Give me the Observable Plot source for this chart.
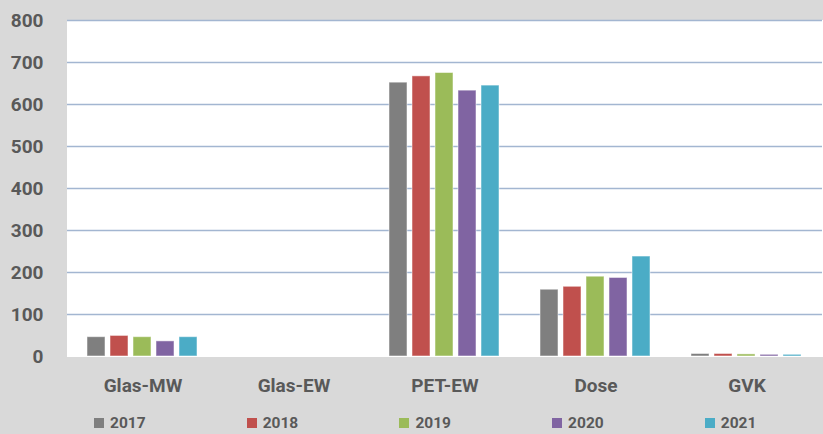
<!DOCTYPE html>
<html>
<head>
<meta charset="utf-8">
<script src="https://cdn.jsdelivr.net/npm/d3@7"></script>
<script src="https://cdn.jsdelivr.net/npm/@observablehq/plot@0.6"></script>
<style>
  html, body { margin: 0; padding: 0; background: #d9d9d9; width: 823px; height: 434px; overflow: hidden; }
  #chart svg { display: block; }
  #legend { position: relative; width: 823px; height: 34px; font-family: Roboto, sans-serif; font-weight: bold; font-size: 15.5px; color: #595959; }
  .item { position: absolute; top: 15px; display: flex; align-items: center; height: 16px; }
  .sw { width: 10px; height: 10px; margin-right: 6px; }
</style>
</head>
<body>
<div id="chart"></div>
<div id="legend"></div>
<script>
const categories = ["Glas-MW", "Glas-EW", "PET-EW", "Dose", "GVK"];
const years = ["2017", "2018", "2019", "2020", "2021"];
const v2017 = [46, 0, 652, 159, 6];
const v2018 = [49, 0, 667, 166, 6];
const v2019 = [46, 0, 675, 190, 5];
const v2020 = [36, 0, 633, 187, 4];
const v2021 = [46, 0, 645, 238, 4];
const yTicks = [0, 100, 200, 300, 400, 500, 600, 700, 800];
const colors = ["#7f7f7f", "#c0504d", "#9bbb59", "#8064a2", "#4bacc6"];

const series = [v2017, v2018, v2019, v2020, v2021];
const data = [];
categories.forEach((c, i) => years.forEach((y, j) => data.push({cat: c, year: y, value: series[j][i]})));

const chart = Plot.plot({
  width: 823,
  height: 400,
  marginLeft: 67,
  marginRight: 1,
  marginTop: 20,
  marginBottom: 44,
  style: {background: "transparent", color: "#595959", fontFamily: "Roboto, sans-serif", fontWeight: "bold", fontSize: "19px"},
  fx: {domain: categories, padding: 0, label: null, axis: null},
  x: {domain: years, paddingInner: 0.2, paddingOuter: 0.85, axis: null},
  y: {domain: [0, 800], label: null},
  color: {domain: years, range: colors},
  marks: [
    Plot.frame({fill: "white", stroke: "white", strokeWidth: 1}),
    Plot.ruleY(yTicks.filter(d => d > 0), {stroke: "#a3b6d1", strokeWidth: 1.4}),
    Plot.barY(data, {fx: "cat", x: "year", y: "value", fill: "year", stroke: "white", strokeOpacity: 0.5, strokeWidth: 1}),
    Plot.axisY({ticks: yTicks, tickSize: 0, tickPadding: 24, label: null, fontSize: 19, fontWeight: "bold"}),
    Plot.axisFx({anchor: "bottom", tickSize: 0, tickPadding: 22, label: null, fontSize: 19, fontWeight: "bold"})
  ]
});
document.getElementById("chart").appendChild(chart);

const legend = document.getElementById("legend");
years.forEach((y, i) => {
  const it = document.createElement("div");
  it.className = "item";
  it.style.left = (94 + i * 152.7) + "px";
  const sw = document.createElement("div");
  sw.className = "sw";
  sw.style.background = colors[i];
  const t = document.createElement("span");
  t.textContent = y;
  it.appendChild(sw);
  it.appendChild(t);
  legend.appendChild(it);
});
</script>
</body>
</html>
